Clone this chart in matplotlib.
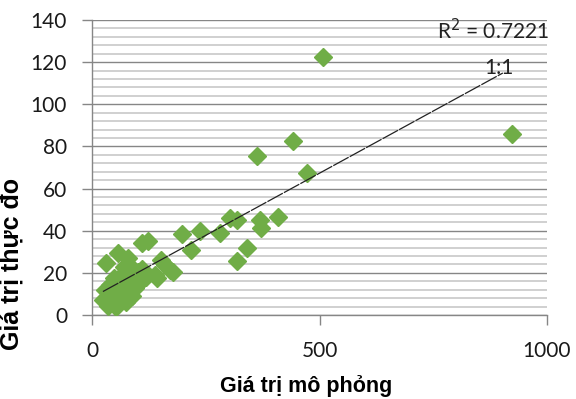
import matplotlib
matplotlib.use("Agg")
import matplotlib.pyplot as plt
from matplotlib.ticker import MultipleLocator

# simulated (x) vs measured (y)
sim = [508, 922, 363, 441, 472, 409, 369, 371, 340, 318, 318, 303, 281, 237,
       218, 198, 124, 110,
       31, 40, 24, 35, 53, 62, 73, 57, 79, 92, 66, 48, 84, 101, 152, 160,
       171, 178, 143, 110, 138, 105, 44, 75, 28, 60, 70, 50, 88, 95, 118]
obs = [122.5, 86, 75.5, 82.6, 67.5, 46.5, 45, 41.5, 32, 25.5, 45, 46, 39, 40,
       31, 38.5, 35, 34,
       24.7, 14.2, 7, 4.3, 3.8, 9, 12, 29.4, 27, 21.4, 19, 17.6, 15.2, 20.4, 26, 23.7,
       21.4, 20.4, 17.6, 22, 19, 15.7, 9.5, 6.2, 12, 15, 23, 10, 9, 13, 18]

# linear trend reported in the chart
fit_slope = 0.118
fit_intercept = 8.3
fit_x = [24, 903]
r2_text = "R$^2$ = 0.7221"
line_label = "1:1"

x_ticks = [0, 500, 1000]
y_ticks = [0, 20, 40, 60, 80, 100, 120, 140]

plt.rcParams['font.family'] = ['Lato', 'DejaVu Sans']
label_font = ['Liberation Sans Narrow', 'Liberation Sans', 'DejaVu Sans']

fig = plt.figure(figsize=(5.76, 3.99), dpi=100)
ax = fig.add_axes([92 / 576, 1 - 315 / 399, 455 / 576, 295 / 399])

ax.set_xlim(0, 1000)
ax.set_ylim(0, 140)
ax.set_xticks(x_ticks)
ax.set_yticks(y_ticks)
ax.yaxis.set_minor_locator(MultipleLocator(4))

ax.grid(axis='y', which='major', color='#868686', lw=1.0)
ax.grid(axis='y', which='minor', color='#c8c8c8', lw=1.2)
ax.set_axisbelow(True)

for s in ['top', 'right']:
    ax.spines[s].set_visible(False)
for s in ['left', 'bottom']:
    ax.spines[s].set_color('#868686')
    ax.spines[s].set_linewidth(1.0)

ax.tick_params(axis='both', which='major', direction='out', length=7,
               width=1.0, color='#868686', labelsize=15, labelcolor='#1a1a1a')
ax.tick_params(axis='x', pad=12)
ax.tick_params(axis='y', pad=11)
ax.tick_params(axis='y', which='minor', length=0)

ax.plot(sim, obs, linestyle='none', marker='D', ms=9.5,
        color='#70AD47', mec='#70AD47', zorder=3)

fit_y = [fit_slope * v + fit_intercept for v in fit_x]
ax.plot(fit_x, fit_y, color='#222222', lw=0.9, dashes=(14, 1), zorder=4)

ax.text(758, 135, r2_text, fontsize=15, color='#222222', va='center',
        ha='left', clip_on=False)
ax.text(895, 117, line_label, fontsize=15, color='#222222', va='center',
        ha='center')

ax.set_xlabel("Giá trị mô phỏng", fontsize=15.5, fontweight='bold',
              family=label_font)
ax.set_ylabel("Giá trị thực đo", fontsize=18, fontweight='bold',
              family=label_font)
ax.xaxis.set_label_coords(0.47, -0.205)
ax.yaxis.set_label_coords(-0.15, 0.173)

fig.savefig("out.png", dpi=100)
